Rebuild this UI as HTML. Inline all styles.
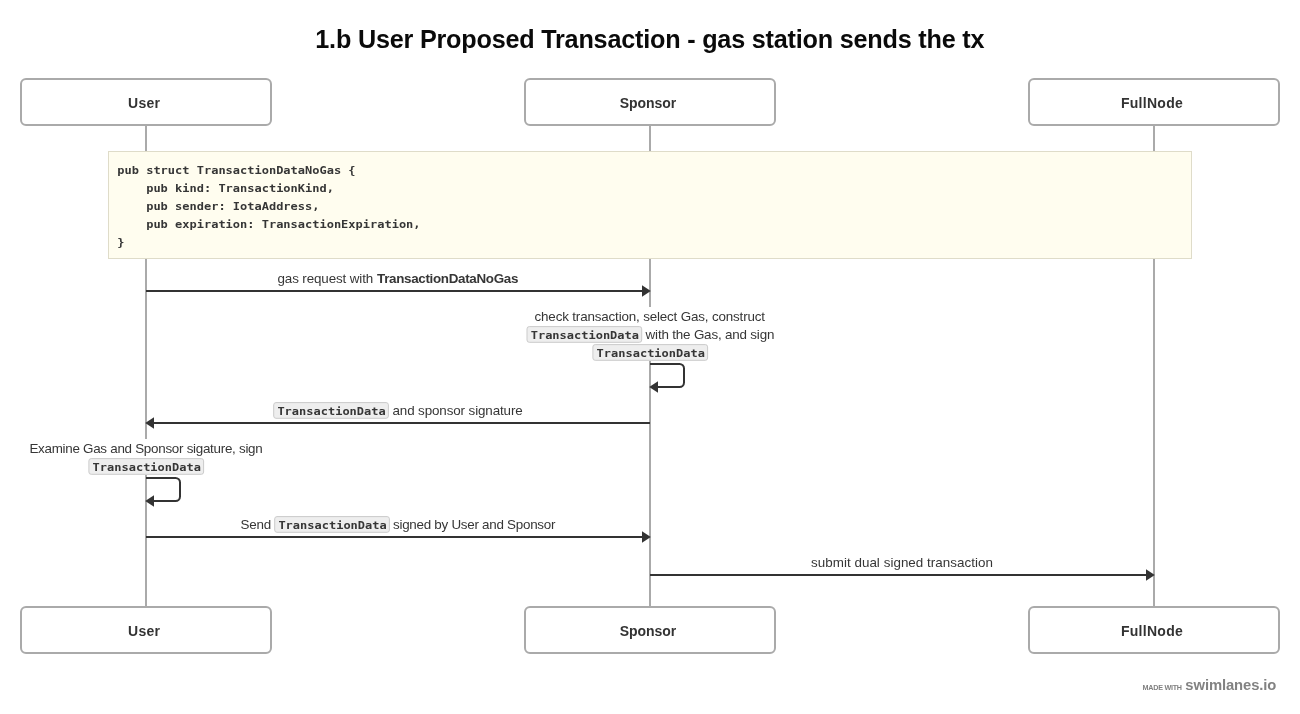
<!DOCTYPE html>
<html lang="en">
<head>
<meta charset="utf-8">
<title>1.b User Proposed Transaction - gas station sends the tx</title>
<style>
html,body{margin:0;padding:0;background:#fff;}
body{width:1300px;height:714px;position:relative;overflow:hidden;font-family:"Liberation Sans",sans-serif;color:#333;}
#root{position:absolute;left:0;top:0;width:1300px;height:714px;will-change:transform;}
.tx{position:absolute;left:0;top:0;white-space:nowrap;line-height:1;margin:0;padding:0;}
.actor{position:absolute;box-sizing:border-box;width:252px;height:48px;border:2px solid #aaaaaa;border-radius:6px;background:#fff;}
.life{position:absolute;width:2px;top:126px;height:480px;background:#aaaaaa;}
.note{position:absolute;left:108px;top:151px;width:1084px;height:108px;box-sizing:border-box;background:#fffdef;border:1px solid #dfdcc9;}
.white{position:absolute;background:#fff;}
.msg,.foot{position:static;margin:0;padding:0;height:0;}
.cd{position:absolute;margin:0;padding:0;white-space:pre;font-family:"DejaVu Sans Mono","Liberation Mono",monospace;font-weight:bold;font-size:11px;line-height:1;color:#363636;left:0;top:0;transform-origin:0 0;}
svg{position:absolute;left:0;top:0;}
</style>
</head>
<body>
<div id="root">
<h1 id="t" class="tx" style="transform:translate(315.31px,26.57px);font-size:25.2px;font-weight:bold;color:#0a0a0a;letter-spacing:-0.202px">1.b User Proposed Transaction - gas station sends the tx</h1>
<!-- lifelines -->
<div class="life" style="left:145px"></div>
<div class="life" style="left:649px"></div>
<div class="life" style="left:1153px"></div>
<!-- participants -->
<div class="actor" style="left:20px;top:78px"><span id="a1" class="tx nm" style="transform:translate(106.10px,16.05px);font-size:14px;font-weight:bold;color:#333;letter-spacing:0.198px">User</span></div>
<div class="actor" style="left:524px;top:78px"><span id="a2" class="tx nm" style="transform:translate(93.64px,16.05px);font-size:14px;font-weight:bold;color:#333;letter-spacing:-0.025px">Sponsor</span></div>
<div class="actor" style="left:1028px;top:78px"><span id="a3" class="tx nm" style="transform:translate(90.90px,16.05px);font-size:14px;font-weight:bold;color:#333;letter-spacing:0.289px">FullNode</span></div>
<div class="actor" style="left:20px;top:606px"><span id="b1" class="tx nm" style="transform:translate(106.10px,15.95px);font-size:14px;font-weight:bold;color:#333;letter-spacing:0.198px">User</span></div>
<div class="actor" style="left:524px;top:606px"><span id="b2" class="tx nm" style="transform:translate(93.64px,15.95px);font-size:14px;font-weight:bold;color:#333;letter-spacing:-0.025px">Sponsor</span></div>
<div class="actor" style="left:1028px;top:606px"><span id="b3" class="tx nm" style="transform:translate(90.90px,15.95px);font-size:14px;font-weight:bold;color:#333;letter-spacing:0.289px">FullNode</span></div>
<!-- note -->
<div class="note">
<pre class="cd" style="transform:translate(8.30px,12.75px) scaleX(1.0902)">pub struct TransactionDataNoGas {</pre>
<pre class="cd" style="transform:translate(8.30px,30.75px) scaleX(1.0902)">    pub kind: TransactionKind,</pre>
<pre class="cd" style="transform:translate(8.30px,48.75px) scaleX(1.0902)">    pub sender: IotaAddress,</pre>
<pre class="cd" style="transform:translate(8.30px,66.75px) scaleX(1.0902)">    pub expiration: TransactionExpiration,</pre>
<pre class="cd" style="transform:translate(8.30px,84.75px) scaleX(1.0902)">}</pre>
</div>
<!-- label backgrounds -->
<div class="white" style="left:524px;top:307px;width:252px;height:54px"></div>
<div class="white" style="left:28px;top:439px;width:236px;height:36px"></div>
<!-- arrows and inline-code chips -->
<svg width="1300" height="714" viewBox="0 0 1300 714">
 <g stroke="#333333" stroke-width="2" fill="none">
  <line x1="146" y1="291" x2="643" y2="291"/>
  <line x1="153" y1="423" x2="650" y2="423"/>
  <line x1="146" y1="537" x2="643" y2="537"/>
  <line x1="650" y1="575" x2="1147" y2="575"/>
  <path d="M650 364 H679.5 A4.5 4.5 0 0 1 684 368.5 V382.5 A4.5 4.5 0 0 1 679.5 387 H657"/>
  <path d="M146 478 H175.5 A4.5 4.5 0 0 1 180 482.5 V496.5 A4.5 4.5 0 0 1 175.5 501 H153"/>
 </g>
 <g fill="#333333">
  <polygon points="650.8,291 642,285.2 642,296.8"/>
  <polygon points="145.2,423 154,417.2 154,428.8"/>
  <polygon points="650.8,537 642,531.2 642,542.8"/>
  <polygon points="1154.8,575 1146,569.2 1146,580.8"/>
  <polygon points="649.2,387 658,381.2 658,392.8"/>
  <polygon points="145.2,501 154,495.2 154,506.8"/>
 </g>
 <g fill="#eeeeee" stroke="#cbcbcb" stroke-width="1">
  <rect x="527.00" y="326.60" width="114.70" height="15.70" rx="2.3" ry="2.3"/>
  <rect x="592.90" y="344.60" width="114.70" height="15.70" rx="2.3" ry="2.3"/>
  <rect x="273.70" y="402.60" width="114.70" height="15.70" rx="2.3" ry="2.3"/>
  <rect x="88.90" y="458.60" width="114.70" height="15.70" rx="2.3" ry="2.3"/>
  <rect x="274.70" y="516.60" width="114.70" height="15.70" rx="2.3" ry="2.3"/>
 </g>
</svg>
<!-- message labels -->
<div class="msg" title="User to Sponsor">
<div id="f1" class="tx" style="transform:translate(277.51px,271.66px);font-size:13.4px;font-weight:normal;color:#363636;letter-spacing:-0.118px">gas request with</div>
<div id="f1b" class="tx" style="transform:translate(377.00px,271.66px);font-size:13.4px;font-weight:bold;color:#363636;letter-spacing:-0.314px">TransactionDataNoGas</div>
</div>
<div class="msg" title="Sponsor to Sponsor">
<div id="f2a" class="tx" style="transform:translate(534.51px,309.66px);font-size:13.4px;font-weight:normal;color:#363636;letter-spacing:-0.158px">check transaction, select Gas, construct</div>
<code class="cd" style="transform:translate(530.70px,329.60px) scaleX(1.0902)">TransactionData</code>
<div id="f2b" class="tx" style="transform:translate(645.60px,327.66px);font-size:13.4px;font-weight:normal;color:#363636;letter-spacing:-0.177px">with the Gas, and sign</div>
<code class="cd" style="transform:translate(596.60px,347.60px) scaleX(1.0902)">TransactionData</code>
</div>
<div class="msg" title="Sponsor to User">
<code class="cd" style="transform:translate(277.40px,405.60px) scaleX(1.0902)">TransactionData</code>
<div id="f3" class="tx" style="transform:translate(392.48px,403.66px);font-size:13.4px;font-weight:normal;color:#363636;letter-spacing:-0.112px">and sponsor signature</div>
</div>
<div class="msg" title="User to User">
<div id="f4a" class="tx" style="transform:translate(29.40px,441.66px);font-size:13.4px;font-weight:normal;color:#363636;letter-spacing:-0.272px">Examine Gas and Sponsor sigature, sign</div>
<code class="cd" style="transform:translate(92.60px,461.60px) scaleX(1.0902)">TransactionData</code>
</div>
<div class="msg" title="User to Sponsor">
<div id="f5a" class="tx" style="transform:translate(240.50px,517.66px);font-size:13.4px;font-weight:normal;color:#363636;letter-spacing:-0.218px">Send</div>
<code class="cd" style="transform:translate(278.40px,519.60px) scaleX(1.0902)">TransactionData</code>
<div id="f5b" class="tx" style="transform:translate(392.98px,517.66px);font-size:13.4px;font-weight:normal;color:#363636;letter-spacing:-0.262px">signed by User and Sponsor</div>
</div>
<div class="msg" title="Sponsor to FullNode">
<div id="f6" class="tx" style="transform:translate(810.98px,555.66px);font-size:13.4px;font-weight:normal;color:#363636;letter-spacing:0.039px">submit dual signed transaction</div>
</div>
<!-- footer -->
<div class="foot"><div id="m1" class="tx" style="transform:translate(1142.55px,684.11px);font-size:7.2px;font-weight:bold;color:#808080;letter-spacing:-0.257px">MADE WITH</div><div id="m2" class="tx" style="transform:translate(1185.34px,677.67px);font-size:14.8px;font-weight:bold;color:#828282;letter-spacing:-0.094px">swimlanes.io</div></div>
</div>
</body>
</html>
